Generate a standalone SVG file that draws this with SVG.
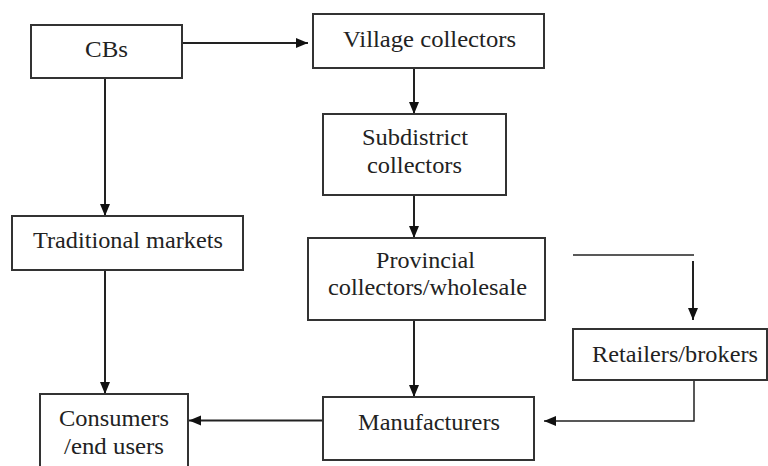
<svg xmlns="http://www.w3.org/2000/svg" width="768" height="466" viewBox="0 0 768 466">
<defs>
<marker id="ah" markerUnits="userSpaceOnUse" markerWidth="12" markerHeight="12" viewBox="0 0 12 12" refX="12" refY="6" orient="auto">
<path d="M0,1 L12,6 L0,11 Z" fill="#111"/>
</marker>
<style>
.box{fill:#fff;stroke:#333;stroke-width:2}
.t{font-family:"Liberation Serif","Times New Roman",serif;font-size:22.5px;fill:#222;text-anchor:middle}
.c{fill:none;stroke:#222;stroke-width:2}
.thin{stroke-width:1.5}
</style>
</defs>
<rect width="768" height="466" fill="#fff"/>
<g id="connectors">
<line class="c" x1="182" y1="43" x2="308" y2="43" marker-end="url(#ah)"/>
<line class="c" x1="105" y1="78" x2="105" y2="216" marker-end="url(#ah)"/>
<line class="c" x1="414" y1="68" x2="414" y2="114" marker-end="url(#ah)"/>
<line class="c" x1="414" y1="195" x2="414" y2="238" marker-end="url(#ah)"/>
<line class="c" x1="414" y1="320" x2="414" y2="397" marker-end="url(#ah)"/>
<line class="c" x1="105" y1="270" x2="105" y2="394" marker-end="url(#ah)"/>
<line class="c" x1="323" y1="420.5" x2="189" y2="420.5" marker-end="url(#ah)"/>
<line class="c thin" x1="573" y1="255" x2="694" y2="255"/>
<line class="c" x1="693" y1="261" x2="693" y2="320" marker-end="url(#ah)"/>
<polyline class="c thin" points="694,380 694,421 544,421" marker-end="url(#ah)"/>
</g>
<g id="cbs">
<rect class="box" x="31" y="25" width="151" height="53"/>
<text class="t" x="106.5" y="57" textLength="43" lengthAdjust="spacingAndGlyphs">CBs</text>
</g>
<g id="village">
<rect class="box" x="313" y="14" width="231" height="54"/>
<text class="t" x="429.5" y="47" textLength="173" lengthAdjust="spacingAndGlyphs">Village collectors</text>
</g>
<g id="subdistrict">
<rect class="box" x="323" y="114" width="183" height="81"/>
<text class="t" x="415" y="145" textLength="106" lengthAdjust="spacingAndGlyphs">Subdistrict</text>
<text class="t" x="414.5" y="173" textLength="95" lengthAdjust="spacingAndGlyphs">collectors</text>
</g>
<g id="traditional">
<rect class="box" x="12" y="216" width="231" height="54"/>
<text class="t" x="128" y="248" textLength="190" lengthAdjust="spacingAndGlyphs">Traditional markets</text>
</g>
<g id="provincial">
<rect class="box" x="308" y="238" width="237" height="82"/>
<text class="t" x="425.5" y="268" textLength="99" lengthAdjust="spacingAndGlyphs">Provincial</text>
<text class="t" x="427.5" y="295" textLength="199" lengthAdjust="spacingAndGlyphs">collectors/wholesale</text>
</g>
<g id="retailers">
<rect class="box" x="573" y="329" width="194" height="51"/>
<text class="t" x="675" y="362" textLength="166" lengthAdjust="spacingAndGlyphs">Retailers/brokers</text>
</g>
<g id="manufacturers">
<rect class="box" x="323" y="397" width="211" height="63"/>
<text class="t" x="429" y="430" textLength="142" lengthAdjust="spacingAndGlyphs">Manufacturers</text>
</g>
<g id="consumers">
<rect class="box" x="40" y="394" width="148" height="80"/>
<text class="t" x="114" y="425.5" textLength="110" lengthAdjust="spacingAndGlyphs">Consumers</text>
<text class="t" x="114" y="454" textLength="100" lengthAdjust="spacingAndGlyphs">/end users</text>
</g>
</svg>
